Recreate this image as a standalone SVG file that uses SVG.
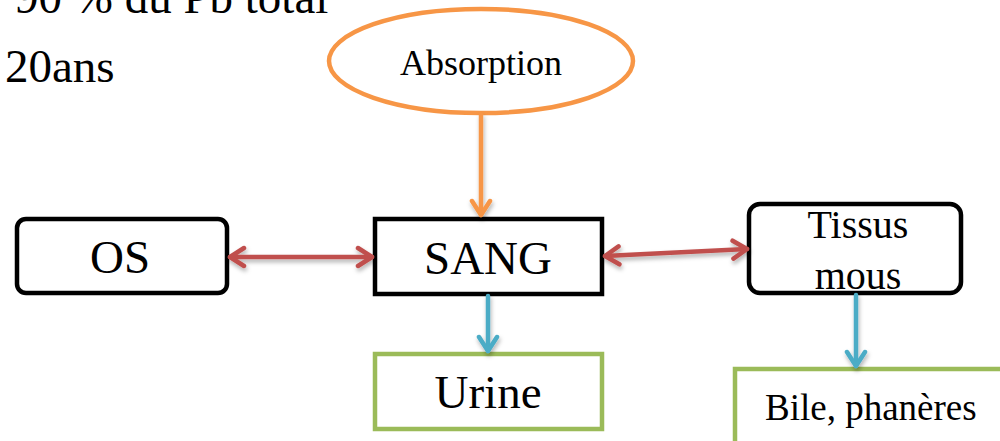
<svg xmlns="http://www.w3.org/2000/svg" width="1000" height="441" viewBox="0 0 1000 441">
<style>
text{font-family:"Liberation Serif","Times New Roman",serif;fill:#000}
.blk{fill:#fff;stroke:#000;stroke-width:4.5}
.grn{fill:#fff;stroke:#9BBB59;stroke-width:4.5}
.red{stroke:#C0504D;stroke-width:4.5;fill:none;stroke-linecap:round}
.blu{stroke:#4BACC6;stroke-width:4.5;fill:none;stroke-linecap:round}
.org{stroke:#F79646;stroke-width:4.5;fill:none;stroke-linecap:round}
</style>
<defs>
<filter id="sh" x="-20%" y="-50%" width="140%" height="200%"><feDropShadow dx="1" dy="3" stdDeviation="2" flood-color="#000" flood-opacity="0.3"/></filter>
<marker id="aR" viewBox="-20 -12 24 24" markerWidth="24" markerHeight="24" refX="0" refY="0" orient="auto-start-reverse" markerUnits="userSpaceOnUse"><path d="M-14,-9 L0,0 L-14,9" fill="none" stroke="#C0504D" stroke-width="4.5" stroke-linecap="round" stroke-linejoin="round"/></marker>
<marker id="aB" viewBox="-20 -12 24 24" markerWidth="24" markerHeight="24" refX="0" refY="0" orient="auto" markerUnits="userSpaceOnUse"><path d="M-14,-9 L0,0 L-14,9" fill="none" stroke="#4BACC6" stroke-width="4.5" stroke-linecap="round" stroke-linejoin="round"/></marker>
<marker id="aO" viewBox="-20 -12 24 24" markerWidth="24" markerHeight="24" refX="0" refY="0" orient="auto" markerUnits="userSpaceOnUse"><path d="M-14,-9 L0,0 L-14,9" fill="none" stroke="#F79646" stroke-width="4.5" stroke-linecap="round" stroke-linejoin="round"/></marker>
</defs>
<g id="caption" font-family="'Liberation Serif', 'Times New Roman', serif">
<text x="15" y="13" font-size="47" font-family="'Liberation Serif', serif">90 % du Pb total</text>
<text x="5" y="82" font-size="47" font-family="'Liberation Serif', serif">20ans</text>
</g>
<g id="absorption">
<ellipse cx="481" cy="61" rx="152" ry="52" fill="#fff" stroke="#F79646" stroke-width="4.5"/>
<text x="481" y="75" font-size="36" text-anchor="middle">Absorption</text>
</g>
<g id="os">
<rect x="17" y="219" width="210" height="74" rx="9" class="blk"/>
<text x="120" y="273" font-size="47" text-anchor="middle">OS</text>
</g>
<g id="sang">
<rect x="375" y="219" width="227" height="75" class="blk"/>
<text x="488" y="274" font-size="47" text-anchor="middle">SANG</text>
</g>
<g id="tissus">
<rect x="749" y="204" width="212" height="89" rx="11" class="blk"/>
<text x="858" y="238" font-size="40" text-anchor="middle">Tissus</text>
<text x="858" y="289" font-size="40" text-anchor="middle">mous</text>
</g>
<g id="urine">
<rect x="375" y="354" width="227" height="75" class="grn"/>
<text x="488" y="408" font-size="47" text-anchor="middle">Urine</text>
</g>
<g id="bile">
<rect x="735" y="369" width="300" height="100" class="grn"/>
<text x="765" y="420" font-size="37">Bile, phanères</text>
</g>
<g id="connectors" filter="url(#sh)">
<line x1="481" y1="115" x2="481" y2="215" class="org" marker-end="url(#aO)"/>
<line x1="230" y1="257" x2="372" y2="257" class="red" marker-start="url(#aR)" marker-end="url(#aR)"/>
<line x1="605" y1="256" x2="747" y2="249" class="red" marker-start="url(#aR)" marker-end="url(#aR)"/>
<line x1="488" y1="296" x2="488" y2="351" class="blu" marker-end="url(#aB)"/>
<line x1="856" y1="295" x2="856" y2="366" class="blu" marker-end="url(#aB)"/>
</g>
</svg>
